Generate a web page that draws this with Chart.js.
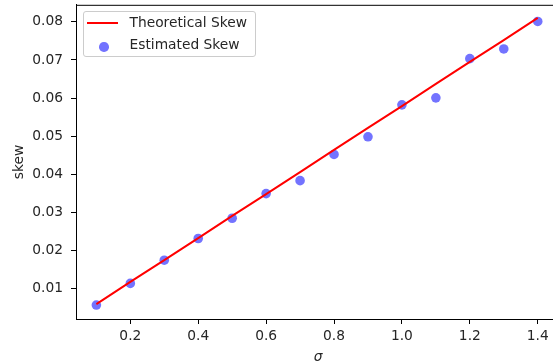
<!DOCTYPE html>
<html>
<head>
<meta charset="utf-8">
<script src="https://cdn.jsdelivr.net/npm/chart.js@4"></script>
<style>
  html, body { margin: 0; padding: 0; background: #fff; overflow: hidden; width: 553px; height: 364px; }
  #wrap { position: relative; width: 570px; height: 364px; }
  #legend { position: absolute; left: 82.5px; top: 10.5px; width: 173px; height: 46px; border: 1px solid #cccccc; border-radius: 3px; background: rgba(255,255,255,0.8); box-sizing: border-box; font-family: "DejaVu Sans", sans-serif; font-size: 13.8px; color: #262626; }
  #legend .txt { position: absolute; left: 46px; line-height: 16px; white-space: nowrap; }
  #legend .ln { position: absolute; left: 3.5px; width: 31px; height: 2px; background: #ff0000; }
  #legend .dot { position: absolute; width: 9.5px; height: 9.5px; border-radius: 50%; background: rgba(0,0,255,0.55); }
</style>
</head>
<body>
<div id="wrap">
  <canvas id="c" width="570" height="364"></canvas>
  <div id="legend">
    <div class="ln" style="top:10.5px"></div>
    <div class="txt" style="top:2.8px">Theoretical Skew</div>
    <div class="dot" style="left:15.5px; top:30.5px"></div>
    <div class="txt" style="top:24.4px">Estimated Skew</div>
  </div>
</div>
<script>
const sigma = [0.1, 0.2, 0.3, 0.4, 0.5, 0.6, 0.7, 0.8, 0.9, 1.0, 1.1, 1.2, 1.3, 1.4];
const theoreticalSkew = [0.0060, 0.0118, 0.0175, 0.0233, 0.0291, 0.0348, 0.0406, 0.0464, 0.0522, 0.0579, 0.0637, 0.0695, 0.0752, 0.0810];
const estimatedSkew = [0.00574, 0.01141, 0.01750, 0.02318, 0.02849, 0.03495, 0.03835, 0.04522, 0.04985, 0.05822, 0.06005, 0.07033, 0.07287, 0.08008];
const xTicks = [0.2, 0.4, 0.6, 0.8, 1.0, 1.2, 1.4];
const xTickLabels = ['0.2', '0.4', '0.6', '0.8', '1.0', '1.2', '1.4'];
const yTicks = [0.01, 0.02, 0.03, 0.04, 0.05, 0.06, 0.07, 0.08];
const yTickLabels = ['0.01', '0.02', '0.03', '0.04', '0.05', '0.06', '0.07', '0.08'];
const seriesNames = ['Theoretical Skew', 'Estimated Skew'];
const xTitle = 'σ';
const yTitle = 'skew';

const FONT = '"DejaVu Sans", sans-serif';
const textColor = '#262626';

const frame = {
  id: 'frame',
  afterDatasetsDraw(chart) {
    const a = chart.chartArea;
    const ctx = chart.ctx;
    ctx.save();
    ctx.strokeStyle = '#000';
    ctx.lineWidth = 1;
    ctx.beginPath();
    ctx.moveTo(a.left, a.top + 0.5);
    ctx.lineTo(a.right, a.top + 0.5);
    ctx.moveTo(a.right - 0.5, a.top);
    ctx.lineTo(a.right - 0.5, a.bottom);
    ctx.stroke();
    ctx.restore();
  }
};

new Chart(document.getElementById('c'), {
  type: 'scatter',
  data: {
    datasets: [
      {
        type: 'line',
        label: seriesNames[0],
        data: sigma.map((s, i) => ({ x: s, y: theoreticalSkew[i] })),
        borderColor: '#ff0000',
        borderWidth: 2,
        pointRadius: 0,
        fill: false,
        tension: 0
      },
      {
        type: 'scatter',
        label: seriesNames[1],
        data: sigma.map((s, i) => ({ x: s, y: estimatedSkew[i] })),
        backgroundColor: 'rgba(0,0,255,0.55)',
        borderWidth: 0,
        pointRadius: 4.8,
        pointHoverRadius: 4.8
      }
    ]
  },
  plugins: [frame],
  options: {
    responsive: false,
    animation: false,
    devicePixelRatio: 1,
    layout: { padding: { left: 0, right: 10, top: 4, bottom: 0 } },
    plugins: { legend: { display: false }, tooltip: { enabled: false } },
    scales: {
      x: {
        type: 'linear',
        min: 0.04,
        max: 1.4656,
        afterBuildTicks: s => { s.ticks = xTicks.map(v => ({ value: v })); },
        afterFit: s => { s.height = 45; s.paddingLeft = 0; s.paddingRight = 0; },
        ticks: {
          callback: v => { const i = xTicks.findIndex(t => Math.abs(t - v) < 1e-9); return i >= 0 ? xTickLabels[i] : ''; },
          font: { family: FONT, size: 13.8 },
          color: textColor,
          padding: 4,
          maxRotation: 0,
          autoSkip: false
        },
        grid: { drawOnChartArea: false, drawTicks: true, tickLength: 5, color: '#000', lineWidth: 1 },
        border: { display: true, color: '#000', width: 1 },
        title: { display: true, text: xTitle, font: { family: FONT, size: 13.8, style: 'italic' }, color: textColor, padding: { top: 0, bottom: -2 } }
      },
      y: {
        type: 'linear',
        min: 0.00208,
        max: 0.08445,
        afterBuildTicks: s => { s.ticks = yTicks.map(v => ({ value: v })); },
        afterFit: s => { s.width = 76; s.paddingTop = 0; s.paddingBottom = 0; },
        ticks: {
          callback: v => { const i = yTicks.findIndex(t => Math.abs(t - v) < 1e-9); return i >= 0 ? yTickLabels[i] : ''; },
          font: { family: FONT, size: 13.8 },
          color: textColor,
          padding: 8,
          autoSkip: false
        },
        grid: { drawOnChartArea: false, drawTicks: true, tickLength: 5, color: '#000', lineWidth: 1 },
        border: { display: true, color: '#000', width: 1 },
        title: { display: true, text: yTitle, font: { family: FONT, size: 13.8 }, color: textColor, padding: { top: 11, bottom: 0 } }
      }
    }
  }
});
</script>
</body>
</html>
